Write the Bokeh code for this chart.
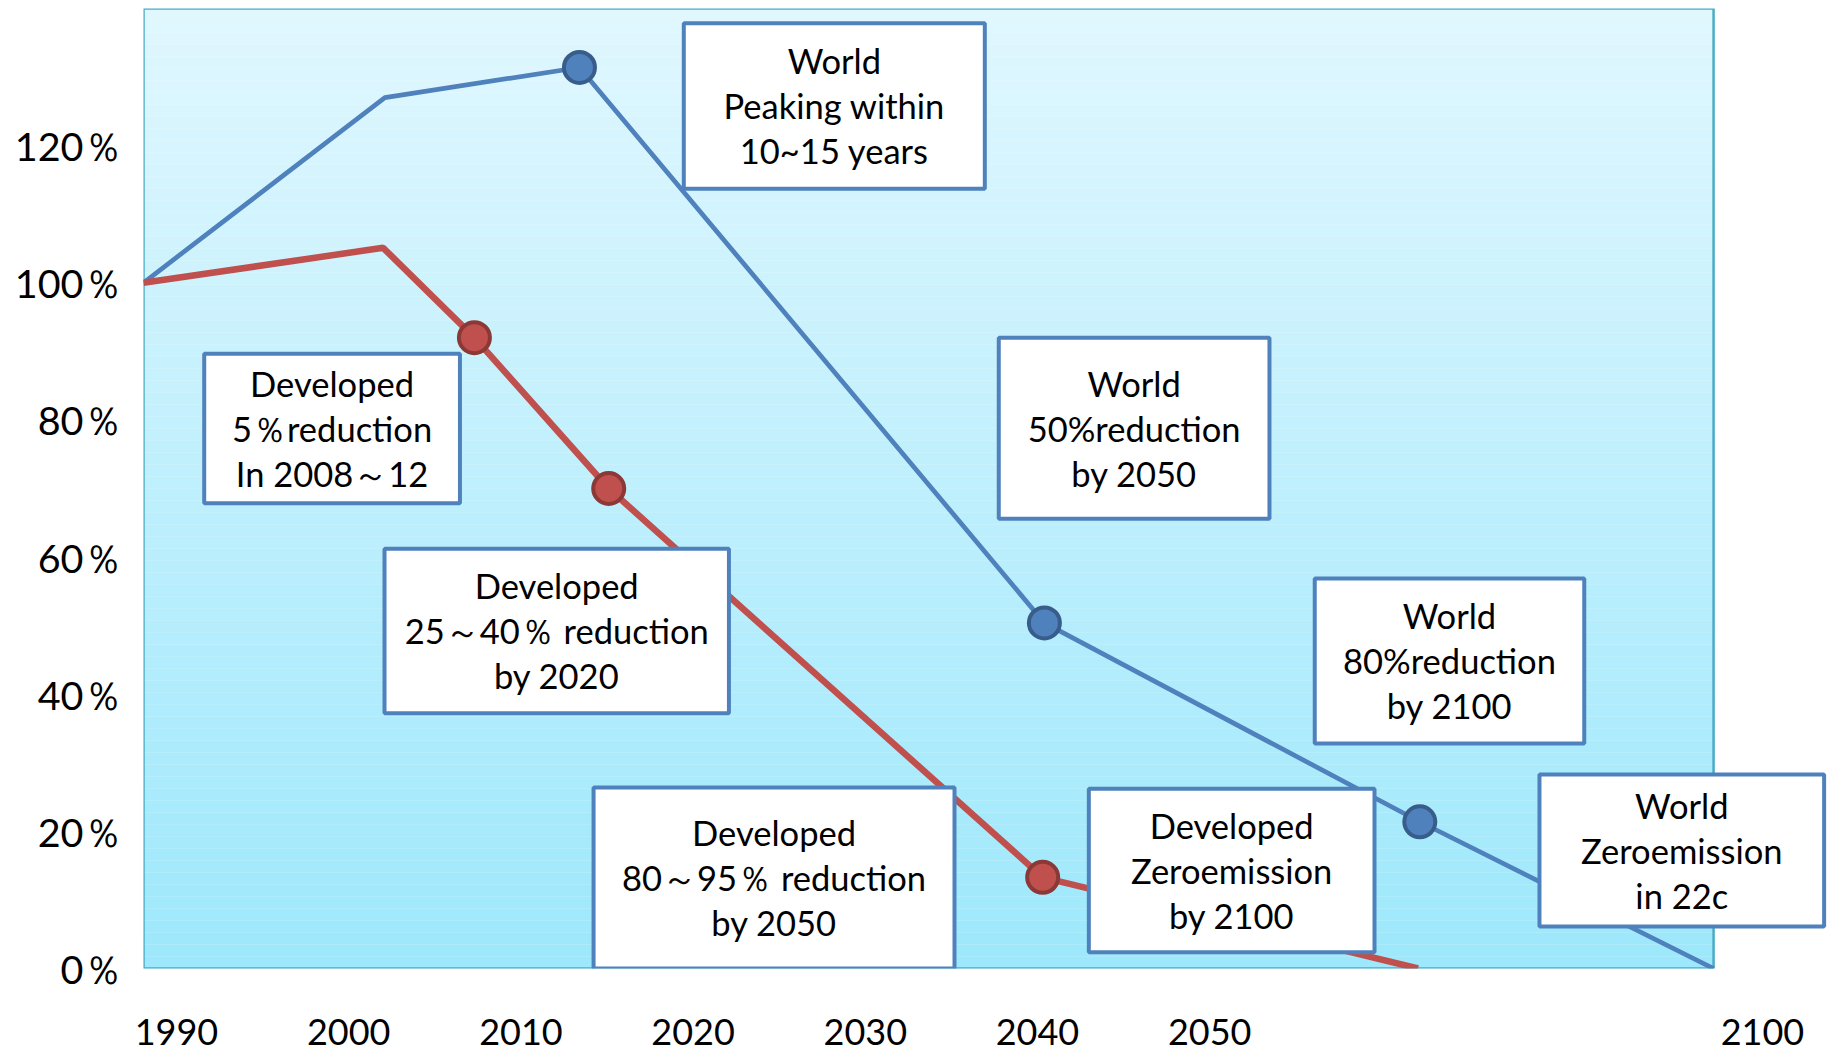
from bokeh.plotting import figure
from bokeh.models import Range1d, FixedTicker
from bokeh.core.properties import value
from bokeh.embed import file_html
from bokeh.resources import INLINE

# ---------------- data ----------------
world_x = [1988.08, 2002.1, 2013.4, 2040.4, 2062.2, 2079.26]
world_y = [100, 127.0, 131.4, 50.4, 21.4, 0]
world_marker_idx = [2, 3, 4]

developed_x = [1988.08, 2002.0, 2007.3, 2015.1, 2040.3, 2062.1]
developed_y = [100, 105.1, 92.0, 70.0, 13.3, 0]
developed_marker_idx = [2, 3, 4]

x_tick_pos = [1990, 2000, 2010, 2020, 2030, 2040, 2050, 2082.1]
x_tick_labels = ["1990", "2000", "2010", "2020", "2030", "2040", "2050", "2100"]
y_tick_pos = [0, 20, 40, 60, 80, 100, 120]
y_tick_labels = ["0％", "20％", "40％", "60％", "80％", "100％", "120％"]

box_texts = [
    ["World", "Peaking within", "10~15 years"],
    ["Developed", "5％reduction", "In 2008～12"],
    ["Developed", "25～40％ reduction", "by 2020"],
    ["World", "50%reduction", "by 2050"],
    ["World", "80%reduction", "by 2100"],
    ["Developed", "80～95％ reduction", "by 2050"],
    ["Developed", "Zeroemission", "by 2100"],
    ["World", "Zeroemission", "in 22c"],
]

# ---------------- layout / styling ----------------
X_START, X_END = 1988.084, 2086.05
Y_START, Y_END = 0, 140
BG_LEFT, BG_RIGHT = X_START, 2079.26
PX_PER_UNIT_Y = 6.857
# box extents (left, right, top, bottom) in axis units
box_pos = [
    (2019.46, 2036.94, 137.86, 113.71),
    (1991.61, 2006.46, 89.65, 67.86),
    (2002.08, 2022.08, 61.21, 37.23),
    (2037.75, 2053.47, 91.98, 65.58),
    (2056.10, 2071.75, 56.88, 32.81),
    (2014.22, 2035.18, 26.40, 0.0),
    (2042.98, 2059.57, 26.21, 2.38),
    (2069.15, 2085.68, 28.29, 6.13),
]
FONT = "Lato"
BLUE, BLUE_DARK = "#4F81BD", "#385D8A"
RED, RED_DARK = "#C0504D", "#8C3836"

p = figure(width=1830, height=1052,
           x_range=Range1d(X_START, X_END), y_range=Range1d(Y_START, Y_END),
           output_backend="svg", toolbar_location=None,
           min_border_left=143, min_border_right=0,
           min_border_top=8, min_border_bottom=84)
p.outline_line_color = None
p.grid.visible = False
p.background_fill_color = "white"
p.border_fill_color = "white"

# gradient plot area
N = 80
top_c = (224, 247, 254)
bot_c = (157, 232, 252)
bottoms, tops, cols = [], [], []
for i in range(N):
    b = Y_START + (Y_END - Y_START) * i / N
    t = Y_START + (Y_END - Y_START) * (i + 1) / N
    f = (i + 0.5) / N
    c = tuple(int(round(bot_c[k] + (top_c[k] - bot_c[k]) * f)) for k in range(3))
    bottoms.append(b)
    tops.append(min(Y_END, t + 0.05))
    cols.append("#%02x%02x%02x" % c)
p.quad(left=BG_LEFT, right=BG_RIGHT, bottom=bottoms, top=tops,
       fill_color=cols, line_color=None)
p.quad(left=BG_LEFT, right=BG_RIGHT, bottom=Y_START, top=Y_END,
       fill_color=None, line_color="#4BACC6", line_width=2.5)

# lines
p.line(world_x, world_y, line_color=BLUE, line_width=4.7)
p.line(developed_x, developed_y, line_color=RED, line_width=6.5)

# boxes
p.quad(left=[b[0] for b in box_pos], right=[b[1] for b in box_pos],
       top=[b[2] for b in box_pos], bottom=[b[3] for b in box_pos],
       fill_color="white", line_color=BLUE, line_width=4)

# markers
p.scatter([world_x[i] for i in world_marker_idx], [world_y[i] for i in world_marker_idx],
          size=31, fill_color=BLUE, line_color=BLUE_DARK, line_width=4)
p.scatter([developed_x[i] for i in developed_marker_idx], [developed_y[i] for i in developed_marker_idx],
          size=31, fill_color=RED, line_color=RED_DARK, line_width=4)

# box texts
line_step = 45 / PX_PER_UNIT_Y
tx, ty, tt = [], [], []
for (l, r, t, b), lines in zip(box_pos, box_texts):
    cx, cy = (l + r) / 2, (t + b) / 2
    for j, s in enumerate(lines):
        tx.append(cx)
        ty.append(cy + (1 - j) * line_step)
        tt.append(s)
p.text(tx, ty, text=tt, text_font=value(FONT), text_font_size="34.5px",
       text_align="center", text_baseline="middle", text_color="black")

# axes
xa = p.xaxis[0]
xa.ticker = FixedTicker(ticks=x_tick_pos)
xa.major_label_overrides = dict(zip(x_tick_pos, x_tick_labels))
xa.axis_line_color = None
xa.major_tick_line_color = None
xa.minor_tick_line_color = None
xa.major_tick_out = 0
xa.major_label_standoff = 50
xa.major_label_text_font = FONT
xa.major_label_text_font_size = "36px"
xa.major_label_text_color = "black"

ya = p.yaxis[0]
ya.ticker = FixedTicker(ticks=y_tick_pos)
ya.major_label_overrides = dict(zip(y_tick_pos, y_tick_labels))
ya.axis_line_color = None
ya.major_tick_line_color = None
ya.minor_tick_line_color = None
ya.major_tick_out = 0
ya.major_label_standoff = 20
ya.major_label_text_font = FONT
ya.major_label_text_font_size = "39.5px"
ya.major_label_text_color = "black"

open("out.html", "w").write(file_html(p, INLINE))
